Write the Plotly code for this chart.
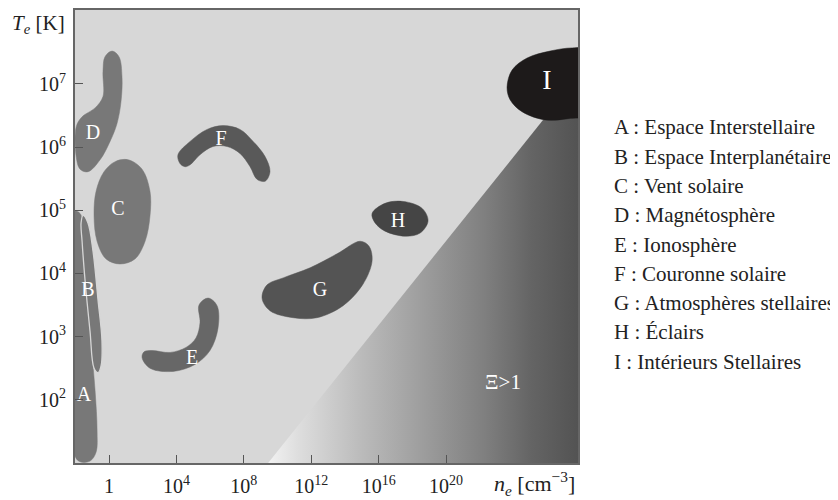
import numpy as np
import plotly.graph_objects as go

# ---------------- data (log10 units) ----------------
ne_tickvals = [1, 1e4, 1e8, 1e12, 1e16, 1e20]
ne_ticktext = ["1", "10<sup>4</sup>", "10<sup>8</sup>", "10<sup>12</sup>", "10<sup>16</sup>", "10<sup>20</sup>"]
Te_tickvals = [1e2, 1e3, 1e4, 1e5, 1e6, 1e7]
Te_ticktext = ["10<sup>2</sup>", "10<sup>3</sup>", "10<sup>4</sup>", "10<sup>5</sup>", "10<sup>6</sup>", "10<sup>7</sup>"]

regions = ["A", "B", "C", "D", "E", "F", "G", "H", "I"]
region_names = ["Espace Interstellaire", "Espace Interplanétaire", "Vent solaire",
                "Magnétosphère", "Ionosphère", "Couronne solaire",
                "Atmosphères stellaires", "Éclairs", "Intérieurs Stellaires"]

A_log_ne = [-2.05, -1.72, -1.42, -1.13, -0.83, -0.71, -0.77, -1.13, -1.72, -2.05]
A_log_Te = [4.98, 4.95, 4.20, 3.09, 2.15, 1.52, 1.17, 1.03, 1.02, 1.13]

B_log_ne = [-1.54, -1.25, -0.95, -0.65, -0.42, -0.47, -0.65, -0.89, -1.13, -1.42, -1.60, -1.66]
B_log_Te = [4.92, 4.80, 4.35, 3.57, 2.94, 2.54, 2.43, 2.50, 3.09, 3.88, 4.51, 4.80]

C_log_ne = [1.13, 1.96, 2.43, 2.43, 2.14, 1.54, 0.65, -0.18, -0.71, -0.89, -0.77, -0.30, 0.36]
C_log_Te = [5.80, 5.65, 5.30, 4.91, 4.51, 4.23, 4.15, 4.23, 4.51, 4.91, 5.30, 5.61, 5.77]

D_log_ne = [0.18, 0.59, 0.77, 0.71, 0.47, 0.06, -0.53, -1.25, -1.72, -1.95, -1.95, -1.60, -0.83, -0.36, -0.36, -0.24]
D_log_Te = [7.52, 7.43, 7.11, 6.72, 6.37, 6.09, 5.80, 5.61, 5.65, 5.85, 6.32, 6.48, 6.62, 6.80, 7.19, 7.43]

E_log_ne = [1.96, 2.43, 3.80, 5.10, 5.99, 6.47, 6.41, 5.88, 5.34, 5.40, 5.16, 4.57, 3.62, 2.55, 2.08]
E_log_Te = [2.67, 2.50, 2.45, 2.56, 2.78, 3.14, 3.49, 3.61, 3.50, 3.22, 2.98, 2.83, 2.75, 2.78, 2.76]

F_log_ne = [4.21, 4.09, 4.81, 5.82, 6.77, 7.77, 8.55, 9.26, 9.55, 9.26, 8.78, 8.37, 7.77, 7.00, 6.17, 5.40, 4.81, 4.51]
F_log_Te = [5.74, 5.88, 6.09, 6.28, 6.34, 6.28, 6.09, 5.85, 5.61, 5.46, 5.49, 5.69, 5.90, 6.01, 6.01, 5.88, 5.72, 5.69]

G_log_ne = [9.08, 9.55, 10.92, 12.34, 13.89, 15.07, 15.61, 15.43, 14.90, 13.53, 11.93, 10.33, 9.38]
G_log_Te = [3.61, 3.41, 3.30, 3.30, 3.49, 3.83, 4.20, 4.43, 4.51, 4.31, 4.09, 3.93, 3.82]

H_log_ne = [15.61, 16.38, 17.45, 18.58, 18.93, 18.46, 17.57, 16.38, 15.79]
H_log_Te = [4.95, 5.11, 5.14, 5.03, 4.83, 4.64, 4.59, 4.67, 4.80]

I_log_ne = [23.62, 23.92, 24.81, 26.17, 27.48, 28.55, 28.55, 27.24, 25.88, 24.51, 23.80]
I_log_Te = [6.95, 7.22, 7.41, 7.52, 7.57, 7.54, 6.53, 6.45, 6.43, 6.56, 6.75]

# Xi = 1 boundary (triangle region Xi > 1)
xi_log_ne = [9.44, 27.83, 27.83]
xi_log_Te = [1.0, 7.12, 1.0]

label_log_ne = [-1.48, -1.25, 0.53, -0.95, 4.93, 6.65, 12.52, 17.15, 25.99]
label_log_Te = [2.06, 3.72, 5.00, 6.21, 2.65, 6.12, 3.72, 4.81, 7.03]
xi_label_log = (23.38, 2.26)

outlines = {
    "A": (A_log_ne, A_log_Te), "B": (B_log_ne, B_log_Te), "C": (C_log_ne, C_log_Te),
    "D": (D_log_ne, D_log_Te), "E": (E_log_ne, E_log_Te), "F": (F_log_ne, F_log_Te),
    "G": (G_log_ne, G_log_Te), "H": (H_log_ne, H_log_Te), "I": (I_log_ne, I_log_Te),
}

# ---------------- styles ----------------
fill_colors = {"A": "#787878", "B": "#787878", "C": "#787878", "D": "#787878",
               "E": "#676767", "F": "#595959", "G": "#545454", "H": "#454545", "I": "#1d1a1a"}
bg = "#d7d7d7"
serif = "Liberation Serif, Times New Roman, serif"

fig = go.Figure()

# gradient region Xi > 1
fig.add_trace(go.Scatter(
    x=[10 ** v for v in xi_log_ne] + [10 ** xi_log_ne[0]],
    y=[10 ** v for v in xi_log_Te] + [10 ** xi_log_Te[0]],
    mode="lines", fill="toself", line=dict(width=0),
    fillgradient=dict(type="horizontal",
                      colorscale=[[0, "#f2f2f2"], [0.1, "#dddddd"], [0.3, "#bbbbbb"],
                                  [0.5, "#9d9d9d"], [0.7, "#7f7f7f"], [0.85, "#646464"],
                                  [1, "#535353"]]),
    hoverinfo="skip", showlegend=False))

for r in regions:
    lx, ly = outlines[r]
    xs = [10 ** v for v in lx] + [10 ** lx[0]]
    ys = [10 ** v for v in ly] + [10 ** ly[0]]
    if r == "B":
        line = dict(width=1.3, color=bg, shape="spline", smoothing=1.0)
    else:
        line = dict(width=0.5, color=fill_colors[r], shape="spline", smoothing=1.0)
    fig.add_trace(go.Scatter(x=xs, y=ys, mode="lines", fill="toself",
                             fillcolor=fill_colors[r], line=line,
                             hoverinfo="skip", showlegend=False))

fig.add_trace(go.Scatter(
    x=[10 ** v for v in label_log_ne[:-1]], y=[10 ** v for v in label_log_Te[:-1]],
    mode="text", text=regions[:-1],
    textfont=dict(color="white", family=serif, size=20),
    hoverinfo="skip", showlegend=False))
fig.add_trace(go.Scatter(
    x=[10 ** label_log_ne[-1]], y=[10 ** label_log_Te[-1]],
    mode="text", text=regions[-1:],
    textfont=dict(color="white", family=serif, size=28),
    hoverinfo="skip", showlegend=False))

fig.add_trace(go.Scatter(
    x=[10 ** xi_label_log[0]], y=[10 ** xi_label_log[1]], mode="text", text=["Ξ>1"],
    textfont=dict(color="white", family=serif, size=21),
    hoverinfo="skip", showlegend=False))

axis_common = dict(showgrid=False, zeroline=False, showline=True, linecolor="#666666",
                   linewidth=2, mirror=True, ticks="inside", ticklen=8, tickwidth=1,
                   tickcolor="#555555", tickfont=dict(family=serif, size=20, color="#222222"))

fig.update_xaxes(type="log", range=[-2.02, 27.83], tickvals=ne_tickvals,
                 ticktext=ne_ticktext, ticklabelstandoff=4, **axis_common)
fig.update_yaxes(type="log", range=[1.0, 8.17], tickvals=Te_tickvals,
                 ticktext=Te_ticktext, ticklabelstandoff=3, **axis_common)

annotations = [
    dict(x=(10 - 75) / 503, y=(463 - 22) / 455, xref="paper", yref="paper", xanchor="left",
         yanchor="middle", text="<i>T</i><sub><i>e</i></sub> [K]", showarrow=False,
         font=dict(family=serif, size=21, color="#222222")),
    dict(x=(492 - 75) / 503, y=-0.045, xref="paper", yref="paper", xanchor="left", yanchor="middle",
         text="<i>n</i><sub><i>e</i></sub> [cm<sup>−3</sup>]", showarrow=False,
         font=dict(family=serif, size=22, color="#222222")),
]
for i, (r, name) in enumerate(zip(regions, region_names)):
    py = 126 + 29.4 * i
    annotations.append(dict(x=(612 - 75) / 503, y=(463 - py) / 455, xref="paper", yref="paper",
                            xanchor="left", yanchor="middle", text=f"{r} : {name}",
                            showarrow=False, font=dict(family=serif, size=21, color="#222222")))

# the page body has an 8px margin, so the figure is drawn 8px in from the top-left
fig.update_layout(width=830, height=492, margin=dict(l=67, r=260, t=0, b=37),
                  plot_bgcolor=bg, paper_bgcolor="white", annotations=annotations,
                  showlegend=False)

fig.write_html("out.html")
